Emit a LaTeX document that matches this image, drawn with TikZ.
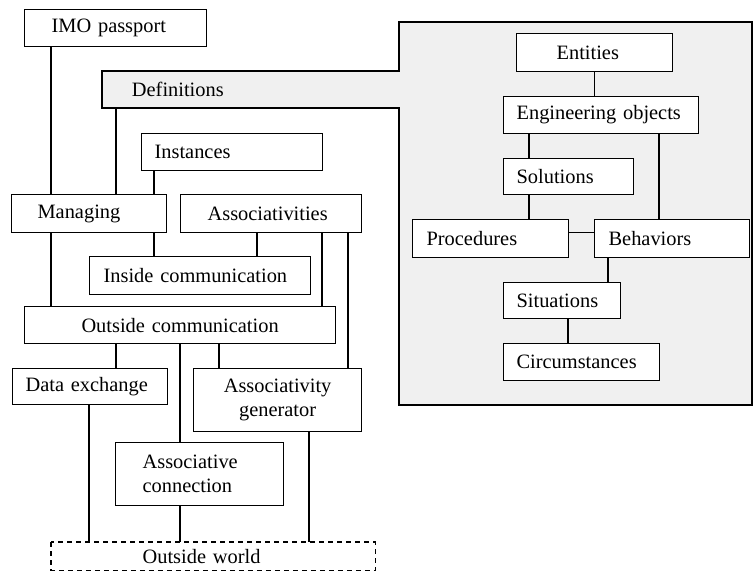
\documentclass[tikz,border=0pt]{standalone}
\usepackage{fontspec}
\setmainfont{Liberation Serif}
\definecolor{defgray}{RGB}{240,240,240}

\begin{document}
\begin{tikzpicture}[x=1pt, y=-1pt, line width=1.2pt,
    box/.style={draw, fill=white, anchor=north west, align=left, inner ysep=0pt,
        minimum height=37pt, font=\fontsize{20.4}{24}\selectfont},
    link/.style={line width=1.2pt}]
    \useasboundingbox (0,0) rectangle (753,579);

    % definitions band
    \draw[fill=defgray] (102,71) -- (399,71) -- (399,22) -- (752,22) -- (752,405)
        -- (399,405) -- (399,108) -- (102,108) -- cycle;
    \node[anchor=west, font=\fontsize{20.4}{24}\selectfont] (defs) at (128,89.5) {Definitions};
    \coordinate (defbase) at (116,108);

    \node[box, text width=128pt, inner xsep=27pt] (imo) at (24,9) {IMO passport};
    \node[box, text width=155pt, inner xsep=13pt] (instances) at (141,133) {Instances};
    \node[box, text width=103pt, inner xsep=26pt, minimum height=38pt] (managing) at (11,194) {Managing};
    \node[box, text width=127pt, inner xsep=27pt, minimum height=38pt] (assoc) at (180,194) {Associativities};
    \node[box, text width=193pt, inner xsep=14pt, minimum height=38pt] (inside) at (89,256) {Inside communication};
    \node[box, text width=291pt, inner xsep=10pt, align=center] (outside) at (24,306) {Outside communication};
    \node[box, text width=129pt, inner xsep=13pt, minimum height=36pt] (data) at (12,368) {Data exchange};
    \node[box, text width=148pt, inner xsep=10pt, align=center, minimum height=63pt] (generator) at (193,368) {Associativity\\generator};
    \node[box, text width=114pt, inner xsep=27pt, minimum height=63pt] (connection) at (115,442) {Associative\\connection};
    \node[box, text width=141pt, inner xsep=91pt, minimum height=27pt, draw=none] (world) at (51,542) {\raisebox{-4pt}{Outside world}};
    \draw[dash pattern=on 5pt off 4pt] (world.north west) rectangle (world.south east);

    \node[box, text width=76pt, inner xsep=40pt, minimum height=38pt] (entities) at (516,33) {Entities};
    \node[box, text width=169pt, inner xsep=13pt] (engobj) at (503,96) {Engineering objects};
    \node[box, text width=104pt, inner xsep=13pt, minimum height=36pt] (solutions) at (503,158) {Solutions};
    \node[box, text width=128pt, inner xsep=14pt, minimum height=38pt] (procedures) at (412,219) {Procedures};
    \node[box, text width=127pt, inner xsep=14pt, minimum height=38pt] (behaviors) at (594,219) {Behaviors};
    \node[box, text width=91pt, inner xsep=13pt, minimum height=36pt] (situations) at (503,282) {Situations};
    \node[box, text width=130pt, inner xsep=13pt] (circumstances) at (503,343) {Circumstances};

    \draw[link] ([xshift=27pt]imo.south west) -- ([xshift=27pt]imo.south west |- managing.north);
    \draw[link] (defbase) -- (defbase |- managing.north);
    \draw[link] ([xshift=13pt]instances.south west) -- ([xshift=13pt]instances.south west |- managing.north);
    \draw[link] ([xshift=143pt]managing.south west) -- ([xshift=143pt]managing.south west |- inside.north);
    \draw[link] ([xshift=40pt]managing.south west) -- ([xshift=40pt]managing.south west |- outside.north);
    \draw[link] ([xshift=77pt]assoc.south west) -- ([xshift=77pt]assoc.south west |- inside.north);
    \draw[link] ([xshift=142pt]assoc.south west) -- ([xshift=142pt]assoc.south west |- outside.north);
    \draw[link] ([xshift=168pt]assoc.south west) -- ([xshift=168pt]assoc.south west |- generator.north);
    \draw[link] ([xshift=92pt]outside.south west) -- ([xshift=92pt]outside.south west |- data.north);
    \draw[link] ([xshift=156pt]outside.south west) -- ([xshift=156pt]outside.south west |- connection.north);
    \draw[link] ([xshift=195pt]outside.south west) -- ([xshift=195pt]outside.south west |- generator.north);
    \draw[link] ([xshift=77pt]data.south west) -- ([xshift=77pt]data.south west |- world.north);
    \draw[link] ([xshift=65pt]connection.south west) -- ([xshift=65pt]connection.south west |- world.north);
    \draw[link] ([xshift=116pt]generator.south west) -- ([xshift=116pt]generator.south west |- world.north);

    \draw[link] (entities.south) -- (entities.south |- engobj.north);
    \draw[link] ([xshift=26pt]engobj.south west) -- ([xshift=26pt]engobj.south west |- solutions.north);
    \draw[link] ([xshift=156pt]engobj.south west) -- ([xshift=156pt]engobj.south west |- behaviors.north);
    \draw[link] ([xshift=26pt]solutions.south west) -- ([xshift=26pt]solutions.south west |- procedures.north);
    \draw[link] ([yshift=6pt]procedures.east) -- ([yshift=6pt]behaviors.west);
    \draw[link] ([xshift=14pt]behaviors.south west) -- ([xshift=14pt]behaviors.south west |- situations.north);
    \draw[link] ([xshift=65pt]situations.south west) -- ([xshift=65pt]situations.south west |- circumstances.north);
\end{tikzpicture}
\end{document}
